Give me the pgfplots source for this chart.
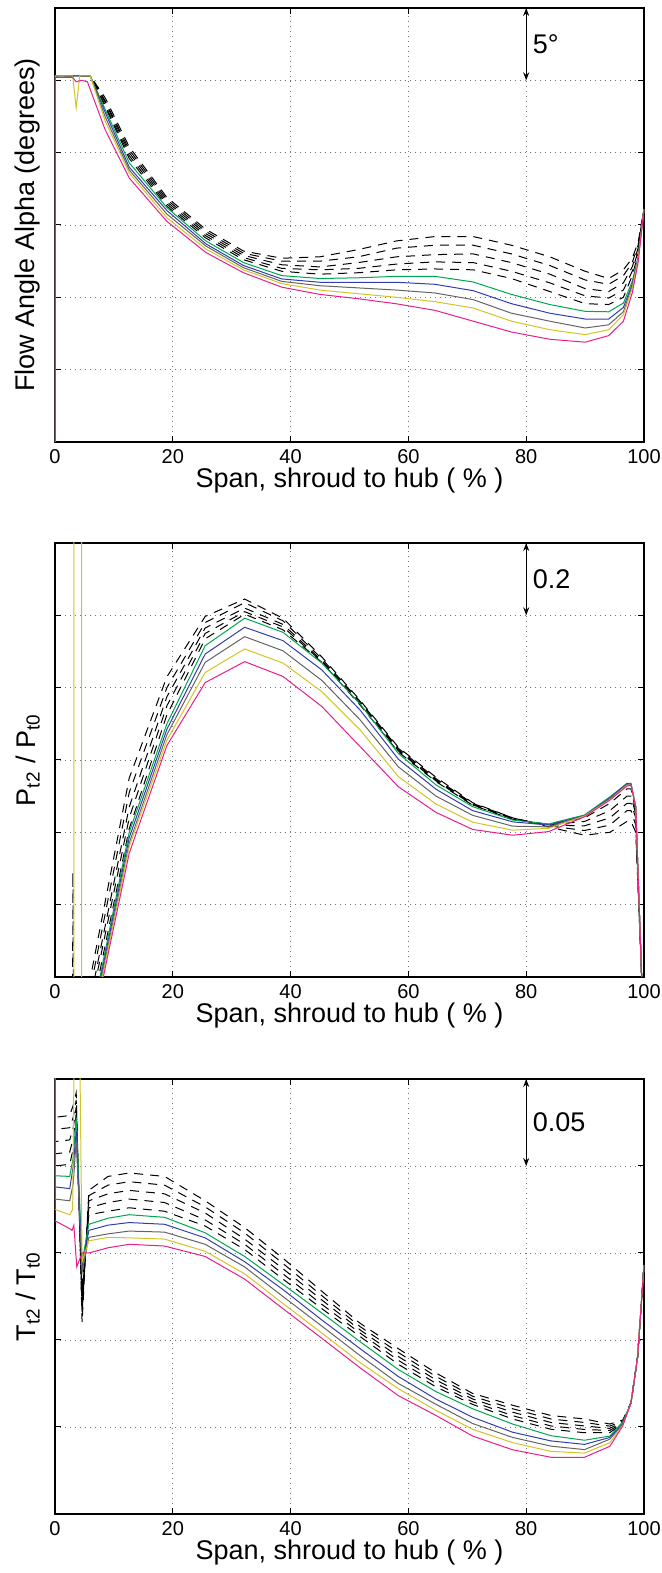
\documentclass[border=0pt]{standalone}
\usepackage{fontspec}
\setmainfont{Liberation Sans}
\usepackage{pgfplots}
\pgfplotsset{compat=1.18}
\usetikzlibrary{arrows.meta}
\definecolor{cgreen}{RGB}{0,166,80}
\definecolor{cblue}{RGB}{50,62,175}
\definecolor{cgray}{RGB}{100,100,100}
\definecolor{cyellow}{RGB}{212,195,40}
\definecolor{cmag}{RGB}{232,30,140}
\tikzset{dsh/.style={black, dash pattern=on 4.5pt off 3.5pt, line width=0.5pt},
  sol/.style={line width=0.5pt},
  scalearrow/.style={{Stealth[length=4pt,width=3pt]}-{Stealth[length=4pt,width=3pt]}, line width=0.6pt}}
\pgfplotsset{panel/.style={
  scale only axis, width=294.5pt, xmin=0, xmax=100, xtick={0,20,40,60,80,100},
  grid=major, major grid style={dash pattern=on 0.5pt off 2pt, black!55, line width=0.4pt},
  yticklabels={}, tick align=inside, major tick length=3pt,
  axis line style={line width=0.6pt}, every tick/.style={black, line width=0.5pt},
  clip mode=individual,
  /pgf/number format/assume math mode=true,
  ticklabel style={font=\fontsize{10}{12}\selectfont},
  label style={font=\fontsize{13.5}{15}\selectfont},
  xlabel={Span, shroud to hub ( \% )},
  xlabel style={yshift=4.5pt},
  ylabel style={at={(axis description cs:-0.025,0.5)}, anchor=south, inner sep=0pt},
}}
\begin{document}
\begin{tikzpicture}
\useasboundingbox (0,0) rectangle (330.5pt,786.5pt);
% ---------------- Panel 1 ----------------
\begin{axis}[panel, at={(27.5pt,565.5pt)}, anchor=south west, height=217pt,
  ymin=0, ymax=30, ytick={0,5,10,15,20,25,30}, ylabel={Flow Angle Alpha (degrees)}]
\addplot[dsh] coordinates {(0,-5)(0,25.3)(6,25.3)(8.5,23.8)(12.6,20.4)(19,16.9)(25.6,14.7)(32,13.2)(38.5,12.7)(45,12.8)(51.5,13.3)(58,13.9)(64.5,14.2)(71,14.2)(77.5,13.6)(84,12.8)(90,11.8)(94,11.3)(96.5,11.9)(98,12.7)(99,13.8)(100,16.1)};
\addplot[dsh] coordinates {(0,-5)(0,25.3)(6,25.3)(8.5,23.6)(12.6,20.2)(19,16.75)(25.6,14.55)(32,13.05)(38.5,12.5)(45,12.5)(51.5,12.8)(58,13.4)(64.5,13.6)(71,13.6)(77.5,13.0)(84,12.2)(90,11.2)(94,10.9)(96.5,11.5)(98,12.4)(99,13.6)(100,16.1)};
\addplot[dsh] coordinates {(0,-5)(0,25.3)(6,25.3)(8.5,23.5)(12.6,20.0)(19,16.6)(25.6,14.4)(32,12.9)(38.5,12.25)(45,12.1)(51.5,12.4)(58,12.8)(64.5,12.95)(71,13.0)(77.5,12.4)(84,11.6)(90,10.6)(94,10.4)(96.5,11.0)(98,12.1)(99,13.4)(100,16.1)};
\addplot[dsh] coordinates {(0,-5)(0,25.3)(6,25.3)(8.5,23.3)(12.6,19.8)(19,16.45)(25.6,14.25)(32,12.75)(38.5,12.0)(45,11.9)(51.5,12.0)(58,12.3)(64.5,12.45)(71,12.4)(77.5,11.8)(84,11.0)(90,10.1)(94,9.95)(96.5,10.5)(98,11.8)(99,13.2)(100,16.1)};
\addplot[dsh] coordinates {(0,-5)(0,25.3)(6,25.3)(8.5,23.2)(12.6,19.6)(19,16.3)(25.6,14.1)(32,12.6)(38.5,11.8)(45,11.6)(51.5,11.7)(58,11.9)(64.5,11.96)(71,11.9)(77.5,11.3)(84,10.4)(90,9.56)(94,9.5)(96.5,10.0)(98,11.5)(99,13.0)(100,16.1)};
\addplot[sol, cgreen] coordinates {(0,-5)(0,25.3)(6,25.3)(8.5,23.0)(12.6,19.3)(19,16.2)(25.6,13.9)(32,12.4)(38.5,11.5)(45,11.3)(51.5,11.35)(58,11.45)(64.5,11.45)(71,11.06)(77.5,10.2)(84,9.5)(90,9.03)(94,9.0)(96.5,9.6)(98,11.1)(99,12.8)(100,16.1)};
\addplot[sol, cblue] coordinates {(0,-5)(0,25.3)(6,25.3)(8.5,22.8)(12.6,19.0)(19,16.0)(25.6,13.7)(32,12.2)(38.5,11.27)(45,11.04)(51.5,11.04)(58,11.04)(64.5,10.9)(71,10.46)(77.5,9.56)(84,8.9)(90,8.5)(94,8.5)(96.5,9.3)(98,10.9)(99,12.7)(100,16.1)};
\addplot[sol, cgray] coordinates {(0,-5)(0,25.3)(6,25.3)(8.5,22.5)(12.6,18.8)(19,15.75)(25.6,13.55)(32,12.05)(38.5,11.1)(45,10.8)(51.5,10.65)(58,10.5)(64.5,10.3)(71,9.84)(77.5,8.9)(84,8.35)(90,7.88)(94,8.1)(96.5,9.0)(98,10.8)(99,12.7)(100,16.1)};
\addplot[sol, cyellow] coordinates {(0,-5)(0,25.3)(3,25.3)(3.6,23.1)(4.2,25.3)(6,25.3)(8.5,22.2)(12.6,18.6)(19,15.5)(25.6,13.35)(32,11.9)(38.5,10.95)(45,10.5)(51.5,10.25)(58,10.0)(64.5,9.7)(71,9.26)(77.5,8.35)(84,7.76)(90,7.42)(94,7.76)(96.5,8.8)(98,10.6)(99,12.6)(100,16.1)};
\addplot[sol, cmag] coordinates {(0,-5)(0,25.2)(3,25.2)(3.6,24.9)(4.5,25.0)(5.5,24.9)(8.5,21.6)(12.6,18.25)(19,15.25)(25.6,13.1)(32,11.7)(38.5,10.7)(45,10.2)(51.5,9.9)(58,9.55)(64.5,9.1)(71,8.35)(77.5,7.6)(84,7.1)(90,6.9)(94,7.35)(96.5,8.35)(98,10.3)(99,12.4)(100,16.1)};
\draw[scalearrow] (axis cs:80,30) -- (axis cs:80,25) node[midway, anchor=west, inner sep=0pt, xshift=3pt, font=\fontsize{13.5}{15}\selectfont]{5°};
\end{axis}
% ---------------- Panel 2 ----------------
\begin{axis}[panel, at={(27.5pt,298pt)}, anchor=south west, height=217pt,
  ymin=0, ymax=1.2, ytick={0,0.2,0.4,0.6,0.8,1.0,1.2}, ylabel={P\textsubscript{t2} / P\textsubscript{t0}}]
\addplot[dsh] coordinates {(0,-0.5)(6.4,0.03)(12.6,0.55)(19,0.83)(25.5,0.997)(32.2,1.045)(38.7,0.992)(45.3,0.885)(51.8,0.765)(58.3,0.635)(64.7,0.552)(70.9,0.482)(77.7,0.440)(83.8,0.415)(89.9,0.392)(94.2,0.40)(97.1,0.43)(97.8,0.43)(98.6,0.40)(99.6,0)(100,-0.2)};
\addplot[dsh] coordinates {(0,-0.5)(6.4,0.0)(12.6,0.51)(19,0.80)(25.5,0.98)(32.2,1.035)(38.7,0.985)(45.3,0.880)(51.8,0.762)(58.3,0.632)(64.7,0.548)(70.9,0.480)(77.7,0.440)(83.8,0.418)(89.9,0.405)(94.2,0.42)(97.1,0.46)(97.8,0.46)(98.6,0.42)(99.6,0)(100,-0.2)};
\addplot[dsh] coordinates {(0,-0.5)(2.9,-0.5)(3.05,0.29)(3.2,-0.5)(6.4,-0.03)(12.6,0.47)(19,0.775)(25.5,0.965)(32.2,1.02)(38.7,0.975)(45.3,0.875)(51.8,0.758)(58.3,0.628)(64.7,0.545)(70.9,0.478)(77.7,0.438)(83.8,0.42)(89.9,0.418)(94.2,0.44)(97.1,0.48)(97.8,0.48)(98.6,0.44)(99.6,0)(100,-0.2)};
\addplot[dsh] coordinates {(0,-0.5)(6.4,-0.05)(12.6,0.44)(19,0.75)(25.5,0.95)(32.2,1.01)(38.7,0.968)(45.3,0.872)(51.8,0.755)(58.3,0.625)(64.7,0.542)(70.9,0.476)(77.7,0.437)(83.8,0.421)(89.9,0.43)(94.2,0.46)(97.1,0.50)(97.8,0.50)(98.6,0.45)(99.6,0)(100,-0.2)};
\addplot[dsh] coordinates {(0,-0.5)(6.4,-0.08)(12.6,0.41)(19,0.725)(25.5,0.935)(32.2,1.003)(38.7,0.96)(45.3,0.87)(51.8,0.752)(58.3,0.622)(64.7,0.54)(70.9,0.475)(77.7,0.436)(83.8,0.422)(89.9,0.44)(94.2,0.48)(97.1,0.52)(97.8,0.52)(98.6,0.46)(99.6,0)(100,-0.2)};
\addplot[sol, cgreen] coordinates {(0,-0.5)(6.4,-0.10)(12.6,0.40)(19,0.70)(25.5,0.916)(32.2,0.992)(38.7,0.953)(45.3,0.868)(51.8,0.755)(58.3,0.618)(64.7,0.531)(70.9,0.471)(77.7,0.434)(83.8,0.423)(89.9,0.448)(94.2,0.498)(97.1,0.535)(97.8,0.535)(98.6,0.47)(99.6,0)(100,-0.2)};
\addplot[sol, cblue] coordinates {(0,-0.5)(6.4,-0.11)(12.6,0.385)(19,0.685)(25.5,0.893)(32.2,0.967)(38.7,0.930)(45.3,0.849)(51.8,0.738)(58.3,0.602)(64.7,0.519)(70.9,0.460)(77.7,0.429)(83.8,0.420)(89.9,0.446)(94.2,0.495)(97.1,0.535)(97.8,0.533)(98.6,0.47)(99.6,0)(100,-0.2)};
\addplot[sol, cgray] coordinates {(0,-0.5)(6.4,-0.12)(12.6,0.37)(19,0.67)(25.5,0.870)(32.2,0.941)(38.7,0.902)(45.3,0.820)(51.8,0.711)(58.3,0.581)(64.7,0.500)(70.9,0.447)(77.7,0.417)(83.8,0.415)(89.9,0.445)(94.2,0.493)(97.1,0.532)(97.8,0.53)(98.6,0.47)(99.6,0)(100,-0.2)};
\addplot[sol, cyellow] coordinates {(0,-0.5)(3.2,-0.5)(3.2,1.5)(4.5,1.5)(4.5,-0.5)(6.4,-0.13)(12.6,0.36)(19,0.655)(25.5,0.842)(32.2,0.907)(38.7,0.868)(45.3,0.789)(51.8,0.683)(58.3,0.554)(64.7,0.478)(70.9,0.428)(77.7,0.406)(83.8,0.411)(89.9,0.445)(94.2,0.49)(97.1,0.53)(97.8,0.53)(98.6,0.47)(99.6,0)(100,-0.2)};
\addplot[sol, cmag] coordinates {(0,-0.5)(6.4,-0.14)(12.6,0.342)(19,0.64)(25.5,0.814)(32.2,0.872)(38.7,0.831)(45.3,0.748)(51.8,0.637)(58.3,0.526)(64.7,0.455)(70.9,0.408)(77.7,0.392)(83.8,0.402)(89.9,0.443)(94.2,0.489)(97.1,0.528)(97.8,0.53)(98.6,0.47)(99.6,0)(100,-0.2)};
\draw[scalearrow] (axis cs:80,1.2) -- (axis cs:80,1.0) node[midway, anchor=west, inner sep=0pt, xshift=3pt, font=\fontsize{13.5}{15}\selectfont]{0.2};
\end{axis}
% ---------------- Panel 3 ----------------
\begin{axis}[panel, at={(27.5pt,29.5pt)}, anchor=south west, height=217.5pt,
  ymin=0, ymax=0.25, ytick={0,0.05,0.1,0.15,0.2,0.25}, ylabel={T\textsubscript{t2} / T\textsubscript{t0}}]
\addplot[dsh] coordinates {(0,0.3)(0,0.228)(2.5,0.229)(3.1,0.235)(3.6,0.242)(4.6,0.110)(5.75,0.186)(9,0.194)(12.6,0.196)(18.6,0.194)(25.5,0.180)(32.2,0.1646)(38.7,0.147)(45.3,0.128)(51.8,0.1096)(58.3,0.095)(64.7,0.081)(70.9,0.0693)(77.7,0.0625)(84.2,0.0566)(89.9,0.0546)(94.2,0.0517)(96.4,0.054)(97.8,0.064)(98.9,0.09)(100,0.143)};
\addplot[dsh] coordinates {(0,0.3)(0,0.221)(2.5,0.222)(3.1,0.228)(3.6,0.238)(4.6,0.115)(5.75,0.183)(9,0.189)(12.6,0.191)(18.6,0.189)(25.5,0.1765)(32.2,0.1615)(38.7,0.144)(45.3,0.1255)(51.8,0.1077)(58.3,0.0928)(64.7,0.079)(70.9,0.0677)(77.7,0.0605)(84.2,0.0546)(89.9,0.0526)(94.2,0.0505)(96.4,0.0535)(97.8,0.064)(98.9,0.09)(100,0.143)};
\addplot[dsh] coordinates {(0,0.3)(0,0.214)(2.5,0.215)(3.1,0.222)(3.6,0.234)(4.6,0.120)(5.75,0.180)(9,0.184)(12.6,0.186)(18.6,0.184)(25.5,0.173)(32.2,0.158)(38.7,0.141)(45.3,0.123)(51.8,0.1058)(58.3,0.0905)(64.7,0.077)(70.9,0.0661)(77.7,0.0585)(84.2,0.0526)(89.9,0.0506)(94.2,0.0492)(96.4,0.053)(97.8,0.064)(98.9,0.09)(100,0.143)};
\addplot[dsh] coordinates {(0,0.3)(0,0.207)(2.5,0.208)(3.1,0.216)(3.6,0.230)(4.6,0.125)(5.75,0.176)(9,0.179)(12.6,0.181)(18.6,0.179)(25.5,0.169)(32.2,0.155)(38.7,0.138)(45.3,0.1205)(51.8,0.104)(58.3,0.0883)(64.7,0.075)(70.9,0.0645)(77.7,0.0565)(84.2,0.0506)(89.9,0.0486)(94.2,0.048)(96.4,0.0525)(97.8,0.064)(98.9,0.09)(100,0.143)};
\addplot[dsh] coordinates {(0,0.3)(0,0.200)(2.5,0.201)(3.1,0.210)(3.6,0.226)(4.6,0.130)(5.75,0.172)(9,0.174)(12.6,0.176)(18.6,0.174)(25.5,0.1655)(32.2,0.152)(38.7,0.135)(45.3,0.118)(51.8,0.102)(58.3,0.086)(64.7,0.073)(70.9,0.063)(77.7,0.0546)(84.2,0.0487)(89.9,0.0467)(94.2,0.0468)(96.4,0.052)(97.8,0.064)(98.9,0.09)(100,0.143)};
\addplot[sol, cgreen] coordinates {(0,0.3)(0,0.1944)(2.5,0.194)(3.1,0.205)(3.6,0.228)(4.6,0.145)(5.75,0.1665)(9,0.170)(12.6,0.172)(18.6,0.1705)(25.5,0.1616)(32.2,0.148)(38.7,0.132)(45.3,0.1155)(51.8,0.099)(58.3,0.083)(64.7,0.0703)(70.9,0.0605)(77.7,0.0517)(84.2,0.045)(89.9,0.0424)(94.2,0.0448)(96.4,0.053)(97.8,0.064)(98.9,0.09)(100,0.143)};
\addplot[sol, cblue] coordinates {(0,0.3)(0,0.188)(2.5,0.187)(3.1,0.200)(3.6,0.220)(4.6,0.142)(5.75,0.163)(9,0.166)(12.6,0.1675)(18.6,0.1665)(25.5,0.1587)(32.2,0.145)(38.7,0.129)(45.3,0.1115)(51.8,0.095)(58.3,0.079)(64.7,0.066)(70.9,0.0556)(77.7,0.047)(84.2,0.042)(89.9,0.040)(94.2,0.044)(96.4,0.052)(97.8,0.064)(98.9,0.09)(100,0.143)};
\addplot[sol, cgray] coordinates {(0,0.3)(0,0.181)(2.5,0.180)(3.1,0.190)(3.6,0.215)(4.6,0.139)(5.75,0.159)(9,0.161)(12.6,0.1626)(18.6,0.162)(25.5,0.155)(32.2,0.142)(38.7,0.125)(45.3,0.108)(51.8,0.091)(58.3,0.075)(64.7,0.063)(70.9,0.052)(77.7,0.044)(84.2,0.039)(89.9,0.037)(94.2,0.043)(96.4,0.0515)(97.8,0.064)(98.9,0.09)(100,0.143)};
\addplot[sol, cyellow] coordinates {(0,0.3)(0,0.175)(2.5,0.172)(3.0,0.175)(3.35,0.3)(4.1,0.3)(4.6,0.145)(5.75,0.157)(9,0.159)(12.6,0.1587)(18.6,0.158)(25.5,0.151)(32.2,0.138)(38.7,0.121)(45.3,0.104)(51.8,0.087)(58.3,0.072)(64.7,0.0595)(70.9,0.0487)(77.7,0.041)(84.2,0.036)(89.9,0.035)(94.2,0.041)(96.4,0.051)(97.8,0.064)(98.9,0.09)(100,0.143)};
\addplot[sol, cmag] coordinates {(0,0.3)(0,0.1685)(2.5,0.164)(2.9,0.163)(3.2,0.166)(3.7,0.142)(4.6,0.150)(5.75,0.150)(9,0.153)(12.6,0.155)(18.6,0.154)(25.5,0.148)(32.2,0.135)(38.7,0.118)(45.3,0.101)(51.8,0.084)(58.3,0.068)(64.7,0.0566)(70.9,0.0448)(77.7,0.0369)(84.2,0.0326)(89.9,0.0326)(94.2,0.0389)(96.4,0.0507)(97.8,0.064)(98.9,0.09)(100,0.143)};
\draw[scalearrow] (axis cs:80,0.25) -- (axis cs:80,0.2) node[midway, anchor=west, inner sep=0pt, xshift=3pt, font=\fontsize{13.5}{15}\selectfont]{0.05};
\end{axis}
\end{tikzpicture}
\end{document}
